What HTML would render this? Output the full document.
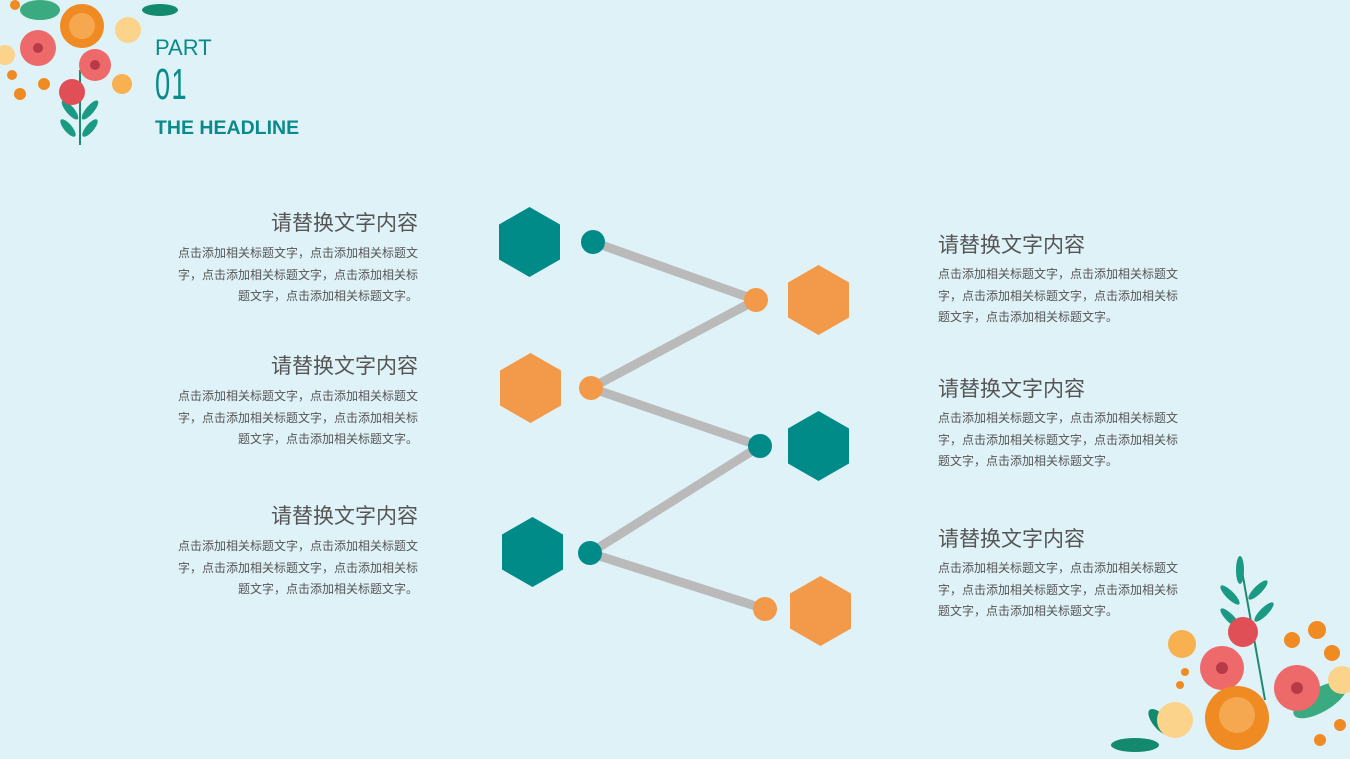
<!DOCTYPE html>
<html><head><meta charset="utf-8">
<style>
html,body{margin:0;padding:0}
body{width:1350px;height:759px;background:#dff2f8;position:relative;overflow:hidden;font-family:"Liberation Sans","Noto Sans CJK SC",sans-serif}
.t{position:absolute;color:#555;font-size:21px;line-height:26px;white-space:nowrap}
.b{position:absolute;color:#555;font-size:12px;line-height:21.5px;white-space:nowrap}
.l{text-align:right}
</style></head><body>
<svg width="1350" height="759" style="position:absolute;left:0;top:0">
<g stroke="#bababa" stroke-width="9" fill="none">
<polyline points="593,242 756,300 591,388 760,446 590,553 765,609"/>
</g>
<g>
<polygon fill="#008b89" points="529.5,207 560,224.5 560,259.5 529.5,277 499,259.5 499,224.5"/>
<polygon fill="#f29a4a" points="818.5,265 849,282.5 849,317.5 818.5,335 788,317.5 788,282.5"/>
<polygon fill="#f29a4a" points="530.5,353 561,370.5 561,405.5 530.5,423 500,405.5 500,370.5"/>
<polygon fill="#008b89" points="818.5,411 849,428.5 849,463.5 818.5,481 788,463.5 788,428.5"/>
<polygon fill="#008b89" points="532.5,517 563,534.5 563,569.5 532.5,587 502,569.5 502,534.5"/>
<polygon fill="#f29a4a" points="820.5,576 851,593.5 851,628.5 820.5,646 790,628.5 790,593.5"/>
</g>
<circle cx="593" cy="242" r="12" fill="#008b89"/>
<circle cx="756" cy="300" r="12" fill="#f29a4a"/>
<circle cx="591" cy="388" r="12" fill="#f29a4a"/>
<circle cx="760" cy="446" r="12" fill="#008b89"/>
<circle cx="590" cy="553" r="12" fill="#008b89"/>
<circle cx="765" cy="609" r="12" fill="#f29a4a"/>
<g>
<path d="M80,70 L80,145" stroke="#1e8a70" stroke-width="2"/>
<ellipse cx="70" cy="110" rx="4" ry="12" fill="#1a9a82" transform="rotate(-40 70 110)"/>
<ellipse cx="90" cy="110" rx="4" ry="12" fill="#1a9a82" transform="rotate(40 90 110)"/>
<ellipse cx="68" cy="128" rx="4" ry="11" fill="#1a9a82" transform="rotate(-40 68 128)"/>
<ellipse cx="90" cy="128" rx="4" ry="11" fill="#1a9a82" transform="rotate(40 90 128)"/>
<ellipse cx="160" cy="10" rx="18" ry="6" fill="#138a6e"/>
<ellipse cx="40" cy="10" rx="20" ry="10" fill="#3aaa80"/>
<circle cx="82" cy="26" r="22" fill="#f08a22"/>
<circle cx="82" cy="26" r="13" fill="#f6a850"/>
<circle cx="128" cy="30" r="13" fill="#fcd38a"/>
<circle cx="38" cy="48" r="18" fill="#ee6a6a"/>
<circle cx="38" cy="48" r="5" fill="#b83a48"/>
<circle cx="95" cy="65" r="16" fill="#ee6a6a"/>
<circle cx="95" cy="65" r="5" fill="#b83a48"/>
<circle cx="72" cy="92" r="13" fill="#e04e56"/>
<circle cx="122" cy="84" r="10" fill="#f8b050"/>
<circle cx="5" cy="55" r="10" fill="#fcd38a"/>
<circle cx="20" cy="94" r="6" fill="#f08a22"/>
<circle cx="44" cy="84" r="6" fill="#f08a22"/>
<circle cx="12" cy="75" r="5" fill="#f08a22"/>
<circle cx="15" cy="5" r="5" fill="#f08a22"/>
</g>
<g>
<path d="M1240,560 L1265,700" stroke="#1e8a70" stroke-width="2"/>
<ellipse cx="1240" cy="570" rx="4" ry="14" fill="#1a9a82"/>
<ellipse cx="1230" cy="595" rx="4" ry="13" fill="#1a9a82" transform="rotate(-45 1230 595)"/>
<ellipse cx="1258" cy="590" rx="4" ry="13" fill="#1a9a82" transform="rotate(45 1258 590)"/>
<ellipse cx="1230" cy="618" rx="4" ry="13" fill="#1a9a82" transform="rotate(-45 1230 618)"/>
<ellipse cx="1264" cy="612" rx="4" ry="13" fill="#1a9a82" transform="rotate(45 1264 612)"/>
<ellipse cx="1135" cy="745" rx="24" ry="7" fill="#138a6e"/>
<ellipse cx="1160" cy="722" rx="7" ry="16" fill="#138a6e" transform="rotate(-40 1160 722)"/>
<ellipse cx="1320" cy="700" rx="30" ry="12" fill="#3aaa80" transform="rotate(-30 1320 700)"/>
<circle cx="1243" cy="632" r="15" fill="#e04e56"/>
<circle cx="1182" cy="644" r="14" fill="#f8b050"/>
<circle cx="1222" cy="668" r="22" fill="#ee6a6a"/>
<circle cx="1222" cy="668" r="6" fill="#b83a48"/>
<circle cx="1297" cy="688" r="23" fill="#ee6a6a"/>
<circle cx="1297" cy="688" r="6" fill="#b83a48"/>
<circle cx="1237" cy="718" r="32" fill="#f08a22"/>
<circle cx="1237" cy="715" r="18" fill="#f6a850"/>
<circle cx="1175" cy="720" r="18" fill="#fcd38a"/>
<circle cx="1342" cy="680" r="14" fill="#fcd38a"/>
<circle cx="1317" cy="630" r="9" fill="#f08a22"/>
<circle cx="1292" cy="640" r="8" fill="#f08a22"/>
<circle cx="1332" cy="653" r="8" fill="#f08a22"/>
<circle cx="1320" cy="740" r="6" fill="#f08a22"/>
<circle cx="1340" cy="725" r="6" fill="#f08a22"/>
<circle cx="1180" cy="685" r="4" fill="#f08a22"/>
<circle cx="1185" cy="672" r="4" fill="#f08a22"/>
</g>
</svg>

<div style="position:absolute;left:155px;top:36px;color:#0a8a8a;font-size:22px;line-height:24px">PART</div>
<div style="position:absolute;left:155px;top:62px;color:#0a8a8a;font-size:44px;line-height:46px;transform:scaleX(0.62);transform-origin:left top;letter-spacing:2px">01</div>
<div style="position:absolute;left:155px;top:117px;color:#0a8a8a;font-size:19.5px;line-height:22px;font-weight:bold">THE HEADLINE</div>

<div class="t" style="right:932px;top:211px">请替换文字内容</div>
<div class="b l" style="right:932px;top:243px">点击添加相关标题文字，点击添加相关标题文<br>字，点击添加相关标题文字，点击添加相关标<br>题文字，点击添加相关标题文字。</div>
<div class="t" style="right:932px;top:354px">请替换文字内容</div>
<div class="b l" style="right:932px;top:386px">点击添加相关标题文字，点击添加相关标题文<br>字，点击添加相关标题文字，点击添加相关标<br>题文字，点击添加相关标题文字。</div>
<div class="t" style="right:932px;top:504px">请替换文字内容</div>
<div class="b l" style="right:932px;top:536px">点击添加相关标题文字，点击添加相关标题文<br>字，点击添加相关标题文字，点击添加相关标<br>题文字，点击添加相关标题文字。</div>

<div class="t" style="left:938px;top:233px">请替换文字内容</div>
<div class="b" style="left:938px;top:264px">点击添加相关标题文字，点击添加相关标题文<br>字，点击添加相关标题文字，点击添加相关标<br>题文字，点击添加相关标题文字。</div>
<div class="t" style="left:938px;top:377px">请替换文字内容</div>
<div class="b" style="left:938px;top:408px">点击添加相关标题文字，点击添加相关标题文<br>字，点击添加相关标题文字，点击添加相关标<br>题文字，点击添加相关标题文字。</div>
<div class="t" style="left:938px;top:527px">请替换文字内容</div>
<div class="b" style="left:938px;top:558px">点击添加相关标题文字，点击添加相关标题文<br>字，点击添加相关标题文字，点击添加相关标<br>题文字，点击添加相关标题文字。</div>
</body></html>
